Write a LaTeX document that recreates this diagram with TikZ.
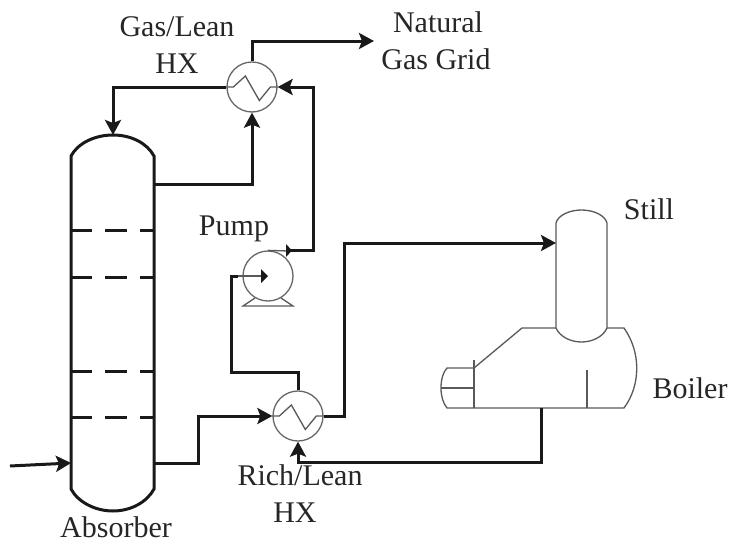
\documentclass[tikz,border=0pt]{standalone}
\usepackage{fontspec}
\setmainfont{Liberation Serif}
\usetikzlibrary{arrows.meta}
\tikzset{
  pipe/.style={line width=3pt,black!90,line join=miter},
  flow/.style={pipe,-{Stealth[length=15pt,width=16pt,inset=3pt]}},
  thinline/.style={line width=1.3pt,black!65},
  vessel/.style={line width=3pt,black!90},
  exch/.style={circle,draw=black!60,line width=1.3pt,minimum size=50pt,inner sep=0pt,fill=white},
  lbl/.style={font=\fontsize{30}{32}\selectfont,text=black!85,inner sep=0pt,anchor=base},
  zig/.style={thinline}
}
\begin{document}
\begin{tikzpicture}[x=1pt,y=-1pt]
\useasboundingbox (0,0) rectangle (729,544);
% named ports
\coordinate (absTop) at (113,135);
\coordinate (absIn) at (71,463);
\coordinate (absGas) at (154,184);
\coordinate (absRich) at (154,463);
\coordinate (feed) at (10,466);
\coordinate (grid) at (374,41);
\coordinate (stillIn) at (556,243);
\coordinate (boilOut) at (541,408);
% exchangers and pump
\node[exch] (hxTop) at (252,87) {};
\node[exch] (hxLow) at (298,416) {};
\node[exch] (pump) at (268,276) {};
% absorber
\draw[vessel] (71,156) .. controls (78,143) and (95,135) .. (113,135) .. controls (131,135) and (147,143) .. (154,156)
  -- (154,489) .. controls (147,502) and (131,511) .. (113,511) .. controls (95,511) and (78,502) .. (71,489) -- cycle;
\foreach \y in {230,277,371,417}{
  \draw[line width=3pt,black!90] (72,\y) -- (92,\y) (105,\y) -- (127,\y) (140,\y) -- (154,\y);
}
% boiler
\draw[thinline] (556,328) -- (522,328) -- (474,368) -- (447,368)
  .. controls (443,372) and (441,380) .. (441,388) .. controls (441,396) and (443,403) .. (447,408)
  -- (624,408) .. controls (641,385) and (641,352) .. (624,328) -- (607,328);
\draw[thinline] (474,360) -- (474,408) (441,388) -- (474,388) (587,370) -- (587,408);
% still
\draw[thinline] (556,223) .. controls (558,215) and (570,210) .. (581.5,210) .. controls (593,210) and (605,215) .. (607,223)
  -- (607,328) .. controls (603,337) and (592,342) .. (581.5,342) .. controls (571,342) and (560,337) .. (556,328) -- cycle;
% zigzags
\draw[zig] (hxTop.west) -- ++(7,0) -- ++(12,-11) -- ++(14,24.5) -- ++(11,-13.5) -- (hxTop.east);
\draw[zig] (hxLow.west) -- ++(7,0) -- ++(12,-11) -- ++(14,24.5) -- ++(11,-13.5) -- (hxLow.east);
% pump base
\draw[thinline] (255,298) -- (243,306) -- (293,306) -- (281,298);
% pipes
\draw[flow] (hxTop.north) -- (252,41) -- (grid);
\draw[flow] (hxTop.west) -- (113,87) -- (absTop);
\draw[flow] (absGas) -- (252,184) -- (hxTop.south);
\draw[pipe] (290,250) -- (313,250) -- (313,87) -- (285,87);
\draw[flow] (313,87) -- (hxTop.east);
\draw[flow] (feed) -- (absIn);
\draw[flow] (absRich) -- (198,463) -- (198,416) -- (hxLow.west);
\draw[flow] (hxLow.east) -- (344,416) -- (344,243) -- (stillIn);
\draw[flow] (boilOut) -- (541,462) -- (298,462) -- (hxLow.south);
\draw[pipe] (hxLow.north) -- (298,372) -- (231,372) -- (231,276) -- (238,276);
% pump internals
\draw[thinline] (238,276) -- (262,276);
\fill[black!90] (268,276) -- (261,269) -- (261,283) -- cycle;
\draw[thinline] (pump.north) -- (288,251);
\fill[black!90] (292,250.5) -- (286,244) -- (286,257) -- cycle;
% labels
\node[lbl] (t1) at (177,36) {Gas/Lean};
\node[lbl] (t2) at (177,73) {HX};
\node[lbl] (t3) at (438,32) {Natural};
\node[lbl] (t4) at (436,69) {Gas Grid};
\node[lbl] (t5) at (234,235) {Pump};
\node[lbl] (t6) at (649,219) {Still};
\node[lbl] (t7) at (690,398) {Boiler};
\node[lbl] (t8) at (300,485) {Rich/Lean};
\node[lbl] (t9) at (295,522) {HX};
\node[lbl] (t10) at (116,537) {Absorber};
\end{tikzpicture}
\end{document}
